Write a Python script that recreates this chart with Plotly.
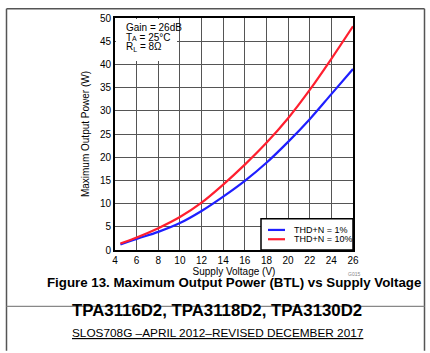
import plotly.graph_objects as go

supply_v = [4.5, 6, 8, 10, 12, 14, 16, 18, 20, 22, 24, 26]
thd_1pct = [1.2, 2.4, 3.9, 5.8, 8.4, 11.5, 14.9, 18.8, 23.3, 28.2, 33.6, 39.0]
thd_10pct = [1.4, 2.7, 4.7, 7.1, 10.2, 14.1, 18.4, 23.1, 28.4, 34.5, 41.2, 48.2]
series_names = ["THD+N = 1%", "THD+N = 10%"]
series_colors = ["#1f1fff", "#ff1f2f"]
x_ticks = list(range(4, 27, 2))
y_ticks = list(range(0, 51, 5))

FONT = "Liberation Sans, Arial, sans-serif"
W, H = 430, 353
L, R, T, B = 115, 77, 13, 103
PW, PH = W - L - R, H - T - B

def px(x):
    return (x - L) / PW

def py(y):
    return (H - B - y) / PH

fig = go.Figure()
for vals, name, col in zip([thd_1pct, thd_10pct], series_names, series_colors):
    fig.add_trace(go.Scatter(x=supply_v, y=vals, mode="lines", name=name,
                             line=dict(color=col, width=2.2, shape="spline", smoothing=1.0),
                             showlegend=False))

shapes = []
annots = []
# info box (white, covers grid)
shapes.append(dict(type="rect", xref="paper", yref="paper", x0=0.004, x1=px(177), y0=py(57), y1=0.996,
                   fillcolor="white", line=dict(width=0), layer="above"))
info = ["Gain = 26dB",
        "T<span style='font-size:7px'>A</span> = 25°C",
        "R<sub>L</sub> = 8Ω"]
for i, t in enumerate(info):
    annots.append(dict(xref="paper", yref="paper", x=px(124), y=py(23 + 10 * i), text=t, showarrow=False,
                       xanchor="left", yanchor="middle", font=dict(family=FONT, size=10, color="black")))
# legend box
lx0, lx1, ly0, ly1 = 261, 353, 218, 250
shapes.append(dict(type="rect", xref="paper", yref="paper", x0=px(lx0), x1=1, y0=0, y1=py(ly0),
                   fillcolor="white", line=dict(color="black", width=1.5), layer="above"))
for i, (name, col) in enumerate(zip(series_names, series_colors)):
    yy = py(229.5 + 9.5 * i)
    shapes.append(dict(type="line", xref="paper", yref="paper", x0=px(268), x1=px(285), y0=yy, y1=yy,
                       line=dict(color=col, width=2.2), layer="above"))
    annots.append(dict(xref="paper", yref="paper", x=px(292), y=yy, text=name, showarrow=False,
                       xanchor="left", yanchor="middle", font=dict(family=FONT, size=9, color="black")))
# page borders
bc = "#555"
shapes += [
    dict(type="line", xref="paper", yref="paper", x0=px(6.5), x1=px(6.5), y0=py(3.5), y1=py(353), line=dict(color=bc, width=1.5)),
    dict(type="line", xref="paper", yref="paper", x0=px(424.5), x1=px(424.5), y0=py(3.5), y1=py(353), line=dict(color=bc, width=1.5)),
    dict(type="line", xref="paper", yref="paper", x0=px(6.5), x1=px(424.5), y0=py(3.5), y1=py(3.5), line=dict(color=bc, width=1.5)),
    dict(type="line", xref="paper", yref="paper", x0=px(6.5), x1=px(424.5), y0=py(307.5), y1=py(307.5), line=dict(color="#888", width=1.2)),
]
annots += [
    dict(xref="paper", yref="paper", x=px(362), y=py(279.5), text="G015", showarrow=False,
         font=dict(family=FONT, size=5, color="#888")),
    dict(xref="paper", yref="paper", x=px(234), y=py(293), text="<b>Figure 13. Maximum Output Power (BTL) vs Supply Voltage</b>",
         showarrow=False, font=dict(family=FONT, size=13.3, color="black")),
    dict(xref="paper", yref="paper", x=px(217), y=py(324), text="<b>TPA3116D2, TPA3118D2, TPA3130D2</b>",
         showarrow=False, font=dict(family=FONT, size=16.8, color="black")),
    dict(xref="paper", yref="paper", x=px(217), y=py(344), text="<u>SLOS708G –APRIL 2012–REVISED DECEMBER 2017</u>",
         showarrow=False, font=dict(family=FONT, size=11.8, color="black")),
]

axis_common = dict(showgrid=True, gridcolor="#555", gridwidth=1.3, showline=True, linecolor="black",
                   linewidth=2, mirror=True, ticks="", zeroline=False,
                   tickfont=dict(family=FONT, size=10, color="black"))
fig.update_layout(
    width=W, height=H, margin=dict(l=L, r=R, t=T, b=B),
    paper_bgcolor="white", plot_bgcolor="white",
    xaxis=dict(range=[4, 26], tickvals=x_ticks, title=dict(text="Supply Voltage (V)", standoff=1,
               font=dict(family=FONT, size=10, color="black")), **axis_common),
    yaxis=dict(range=[0, 50], tickvals=y_ticks, title=dict(text="Maximum Output Power (W)", standoff=8,
               font=dict(family=FONT, size=10, color="black")), **axis_common),
    shapes=shapes, annotations=annots, showlegend=False,
)
fig.write_html("out.html")
